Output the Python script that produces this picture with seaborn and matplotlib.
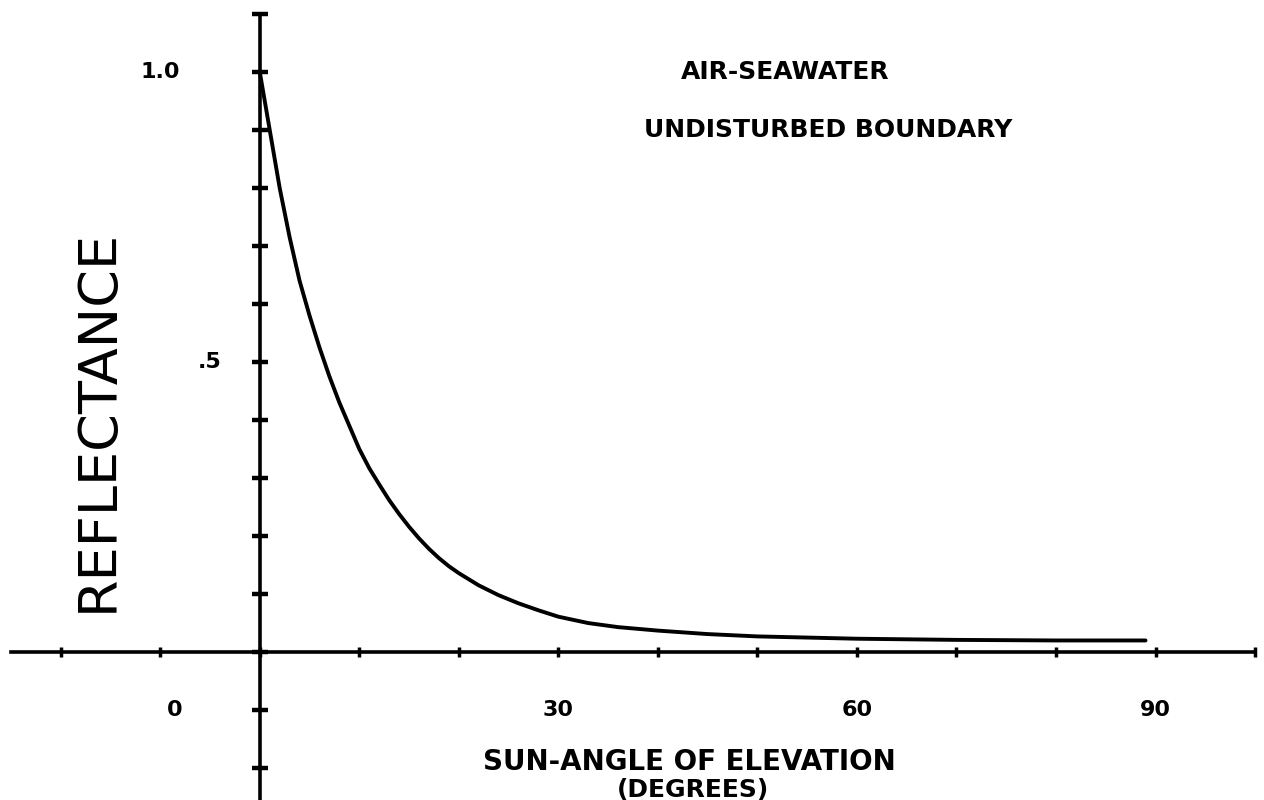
import pandas as pd
import seaborn as sns
import matplotlib.pyplot as plt

# curve
elevation = [0, 1, 2, 3, 4, 5, 6, 7, 8, 9, 10, 11, 12, 13, 14, 15, 16, 17, 18, 19, 20,
             22, 24, 26, 28, 30, 33, 36, 40, 45, 50, 55, 60, 70, 80, 89]
reflectance = [1.00, 0.90, 0.80, 0.715, 0.64, 0.58, 0.525, 0.475, 0.43, 0.39, 0.35,
               0.317, 0.289, 0.262, 0.238, 0.216, 0.196, 0.178, 0.162, 0.148, 0.136,
               0.115, 0.098, 0.084, 0.072, 0.061, 0.050, 0.043, 0.037, 0.031, 0.027,
               0.025, 0.023, 0.021, 0.020, 0.020]

x_ticks = [-20, -10, 0, 10, 20, 30, 40, 50, 60, 70, 80, 90, 100]
y_ticks = [-0.2, -0.1, 0.0, 0.1, 0.2, 0.3, 0.4, 0.5, 0.6, 0.7, 0.8, 0.9, 1.0, 1.1]

x_labels = ["0", "30", "60", "90"]
x_label_pos = [-8.5, 30, 60, 90]
y_labels = ["1.0", ".5"]
y_label_pos = [1.0, 0.5]
y_label_x = [-10, -5]

title_lines = ["AIR-SEAWATER", "UNDISTURBED BOUNDARY"]
xlabel_lines = ["SUN-ANGLE OF ELEVATION", "(DEGREES)"]
ylabel = "REFLECTANCE"

sns.set_style("white")
plt.rcParams['font.family'] = ['DejaVu Sans']

fig = plt.figure(figsize=(12.64, 8), dpi=100)
ax = fig.add_axes([0, 0, 1, 1])

frame = pd.DataFrame({"Elevation": elevation, "Reflectance": reflectance})
sns.lineplot(data=frame, x="Elevation", y="Reflectance", color="black", linewidth=2.8, ax=ax)

ax.set_xlim(-26.1, 100.9)
ax.set_ylim(-0.255, 1.124)
ax.set_xlabel("")
ax.set_ylabel("")

# axes crossing at the origin
for side in ["top", "right"]:
    ax.spines[side].set_visible(False)
ax.spines["left"].set_position(("data", 0))
ax.spines["bottom"].set_position(("data", 0))
ax.spines["left"].set_bounds(-0.26, 1.1)
ax.spines["bottom"].set_bounds(-25, 100)
for side in ["left", "bottom"]:
    ax.spines[side].set_linewidth(2.6)
    ax.spines[side].set_color("black")

ax.set_xticks(x_ticks)
ax.set_yticks(y_ticks)
ax.tick_params(axis="x", bottom=True, direction="inout", length=7, width=2.5, color="black", labelbottom=False)
ax.tick_params(axis="y", left=True, direction="inout", length=11, width=3.2, color="black", labelleft=False)

block = dict(family="DejaVu Sans", weight="bold", color="black")

for lab, pos in zip(x_labels, x_label_pos):
    ax.text(pos, -0.1, lab, ha="center", va="center", fontsize=16, **block)
for lab, xp, pos in zip(y_labels, y_label_x, y_label_pos):
    ax.text(xp, pos, lab, ha="center", va="center", fontsize=16, **block)

ax.text(52.8, 1.0, title_lines[0], ha="center", va="center", fontsize=18, **block)
ax.text(57.1, 0.9, title_lines[1], ha="center", va="center", fontsize=18, **block)

ax.text(43.2, -0.19, xlabel_lines[0], ha="center", va="center", fontsize=20, **block)
ax.text(43.5, -0.238, xlabel_lines[1], ha="center", va="center", fontsize=18, **block)

ax.text(-16.3, 0.4, ylabel, ha="center", va="center", rotation=90, fontsize=39, color="black")

fig.savefig("out.png", dpi=100)
